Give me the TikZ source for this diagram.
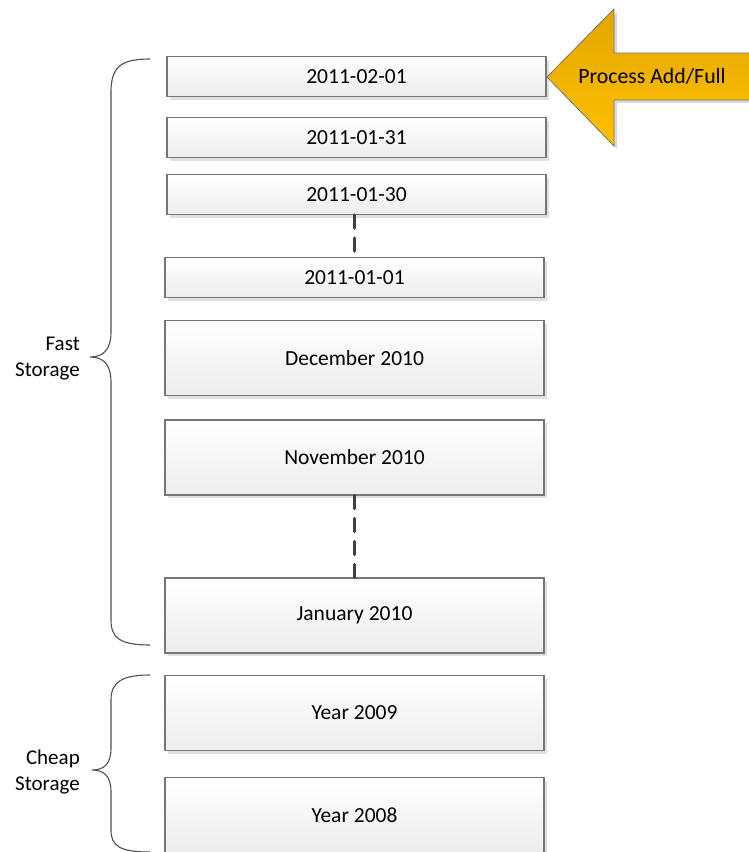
\documentclass[tikz,border=0pt]{standalone}
\usepackage{fontspec}
\setmainfont{Carlito}
\usetikzlibrary{shadows,calc}
\definecolor{boxline}{HTML}{767676}
\definecolor{boxbot}{HTML}{EDEDED}
\definecolor{dashcol}{HTML}{404040}
\definecolor{goldtop}{HTML}{E3A600}
\definecolor{goldbot}{HTML}{FFC000}
\definecolor{bracecol}{HTML}{505050}
\tikzset{
  box/.style={draw=boxline, line width=1.1pt, top color=white, bottom color=boxbot,
    minimum width=379pt, inner sep=0pt,
    font=\fontsize{21.5}{24}\selectfont,
    drop shadow={shadow xshift=3pt, shadow yshift=-3pt, fill=black!12, opacity=1}},
  smallbox/.style={box, minimum height=40pt},
  bigbox/.style={box, minimum height=75pt},
  dashlink/.style={draw=dashcol, line width=3.5pt, line cap=round, dash pattern=on 13pt off 10pt},
  bracepath/.style={draw=bracecol, line width=1.1pt},
  sidelabel/.style={align=right, anchor=east, inner sep=0pt, font=\fontsize{21}{26}\selectfont},
}
\begin{document}
\begin{tikzpicture}[x=1pt,y=-1pt]
\useasboundingbox (0,0) rectangle (749,852);
\clip (0,0) rectangle (749,852);
% boxes
\node[smallbox] (b1) at (356.5,76.5) {2011-02-01};
\node[smallbox] (b2) at (356.5,137.5) {2011-01-31};
\node[smallbox] (b3) at (356.5,194.5) {2011-01-30};
\node[smallbox] (b4) at (354.5,277.5) {2011-01-01};
\node[bigbox] (b5) at (354.5,358) {December 2010};
\node[bigbox] (b6) at (354.5,457.5) {November 2010};
\node[bigbox] (b7) at (354.5,615.5) {January 2010};
\node[bigbox] (b8) at (354.5,713) {Year 2009};
\node[bigbox] (b9) at (354.5,815) {Year 2008};
% dashed links
\draw[dashlink] (b4.north |- b3.south) -- (b4.north);
\draw[dashlink] (b7.north |- b6.south) -- (b7.north);
% arrow
\coordinate (tip) at (547,77);
\fill[black!15] ($(tip)+(3,3)$) -- (617,12) -- (617,56) -- (760,56) -- (760,103) -- (617,103) -- (617,149) -- cycle;
\path[draw=boxline, line width=0.8pt, top color=goldtop, bottom color=goldbot]
  (tip) -- (614,9) -- (614,53) -- (760,53) -- (760,100) -- (614,100) -- (614,146) -- cycle;
\node[inner sep=0pt, font=\fontsize{21.8}{24}\selectfont] (arrowtext) at (652,76) {Process Add/Full};
% braces
\draw[bracepath] (150,59) .. controls (122,59) and (111,66) .. (111,92)
  -- (111,332) .. controls (111,350) and (103,357) .. (90,357)
  .. controls (103,357) and (111,364) .. (111,382)
  -- (111,620) .. controls (111,638) and (120,645) .. (150,645);
\draw[bracepath] (150,675) .. controls (122,675) and (111,682) .. (111,700)
  -- (111,748) .. controls (111,764) and (104,770) .. (92,770)
  .. controls (104,770) and (111,776) .. (111,792)
  -- (111,830) .. controls (111,846) and (120,852) .. (150,852);
\node[sidelabel] (fast) at (80,359) {Fast\\Storage};
\node[sidelabel] (cheap) at (80,772) {Cheap\\Storage};
\end{tikzpicture}
\end{document}
